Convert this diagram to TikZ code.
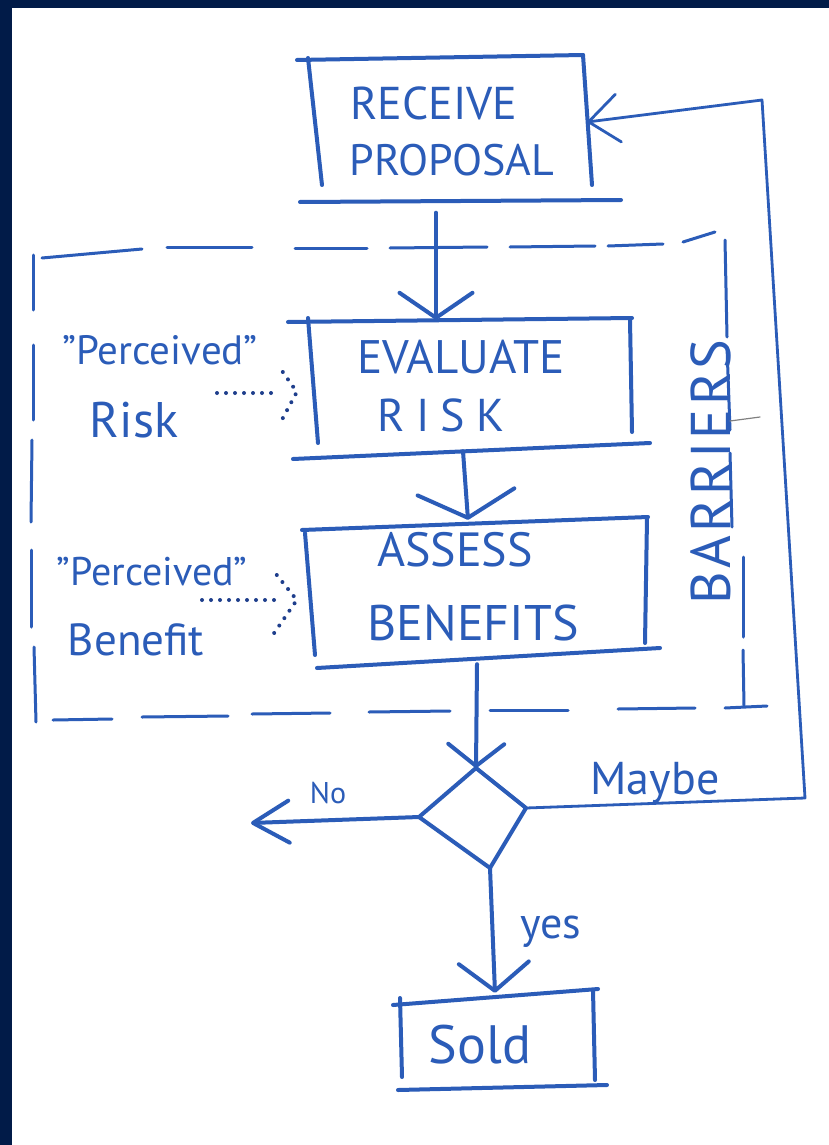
\documentclass[tikz,border=0pt]{standalone}
\usepackage{fontspec}
\setmainfont{PT Sans}
\usetikzlibrary{arrows.meta,calc,shapes.geometric}
\definecolor{ink}{RGB}{43,92,184}
\definecolor{dotink}{RGB}{30,62,140}
\definecolor{navy}{RGB}{1,27,72}

\begin{document}
\begin{tikzpicture}[x=1pt,y=-1pt,
  pen/.style={draw=ink, line width=4pt, line cap=round, line join=round},
  thinpen/.style={draw=ink, line width=2.8pt, line cap=round, line join=round},
  dashpen/.style={draw=ink, line width=3pt, line cap=round},
  dotpen/.style={draw=dotink, line width=4pt, line cap=round, dash pattern=on 0pt off 9pt},
  vtip/.style 2 args={-{Straight Barb[length=#1pt,width=#2pt,round]}},
  box/.style={rectangle, draw=none, inner sep=0pt},
  lbl/.style={text=ink, inner sep=0pt, anchor=center},
  fs/.style={font=\fontsize{#1}{#1}\selectfont}
]
\useasboundingbox (0,0) rectangle (829,1145);
% paper and dark frame
\fill[white] (0,0) rectangle (829,1145);
\fill[navy] (0,0) rectangle (12,1145);
\fill[navy] (0,0) rectangle (829,8);

% ---------- box nodes (used as connector ends) ----------
\node[box, minimum width=290pt, minimum height=145pt] (receive) at (446,130) {};
\node[box, minimum width=330pt, minimum height=131pt] (evaluate) at (466,385.5) {};
\node[box, minimum width=343pt, minimum height=136pt] (assess) at (476,590) {};
\node[box, minimum width=205pt, minimum height=95pt] (sold) at (497,1040.5) {};

% ---------- hand-drawn box outlines ----------
\draw[pen] (297,60) -- (583,55);
\draw[pen] (308,58) -- (322,185);
\draw[pen] (583,55) -- (592,185);
\draw[pen] (300,202) -- (621,200);

\draw[pen] (288,322) -- (632,318);
\draw[pen] (308,318) -- (318,443);
\draw[pen] (630,320) -- (632,432);
\draw[pen] (293,459) -- (650,443);

\draw[pen] (302,530) -- (648,517);
\draw[pen] (305,533) -- (315,655);
\draw[pen] (647,518) -- (645,643);
\draw[pen] (317,668) -- (660,648);

\draw[pen] (393,1005) -- (598,989);
\draw[pen] (400,998) -- (402,1077);
\draw[pen] (593,990) -- (595,1080);
\draw[pen] (398,1090) -- (607,1085);

% ---------- decision diamond ----------
\coordinate (dT) at (476,768);
\coordinate (dR) at (526,808);
\coordinate (dB) at (490,868);
\coordinate (dL) at (419,817);
\draw[pen] (dT) -- (dR) -- (dB) -- (dL) -- cycle;

% ---------- box texts ----------
\node[lbl, fs=46] (recA) at (434,103) {RECEIVE};
\node[lbl, fs=44] (recB) at (452,160) {PROPOSAL};
\node[lbl, fs=47] (evaA) at (461,357) {EVALUATE};
\node[lbl, fs=46] (evaB) at (441,415) {\addfontfeatures{LetterSpace=25}RISK};
\node[lbl, fs=48] (assA) at (455,550) {ASSESS};
\node[lbl, fs=50] (assB) at (473,623) {BENEFITS};
\node[lbl, fs=54] (soldT) at (480,1045) {Sold};

% ---------- side notes ----------
\node[lbl, fs=41] (riskP) at (160,350) {"Perceived"};
\node[lbl, fs=50] (riskR) at (134,420) {Risk};
\node[lbl, fs=40] (benP) at (152,572) {"Perceived"};
\node[lbl, fs=45] (benB) at (136,640) {Benefit};
\node[lbl, fs=56, rotate=90] (barr) at (711,472) {\addfontfeatures{LetterSpace=6}BARRIERS};

% ---------- branch labels ----------
\node[lbl, fs=30] (noT) at (328,793) {No};
\node[lbl, fs=46] (maybeT) at (655,783) {Maybe};
\node[lbl, fs=44] (yesT) at (551,932) {yes};

% ---------- barrier frame (hand-drawn dashes) ----------
\draw[dashpen] (42,258) -- (142,249);
\draw[dashpen] (167,247) -- (252,247);
\draw[dashpen] (295,248) -- (367,248);
\draw[dashpen] (390,248) -- (487,247);
\draw[dashpen] (510,247) -- (595,246);
\draw[dashpen] (608,246) -- (663,244);
\draw[dashpen] (683,242) -- (715,232);

\draw[dashpen] (33,255) -- (33,310);
\draw[dashpen] (33,345) -- (33,420);
\draw[dashpen] (32,440) -- (31,522);
\draw[dashpen] (31,550) -- (31,627);
\draw[dashpen] (34,647) -- (36,722);

\draw[dashpen] (53,720) -- (112,719);
\draw[dashpen] (142,717) -- (228,716);
\draw[dashpen] (252,714) -- (330,713);
\draw[dashpen] (369,712) -- (450,711);
\draw[dashpen] (490,710) -- (568,710);
\draw[dashpen] (618,709) -- (695,708);
\draw[dashpen] (725,708) -- (767,706);

\draw[dashpen] (725,240) -- (727,337);
\draw[dashpen] (727,347) -- (730,430);
\draw[dashpen] (730,453) -- (732,527);
\draw[dashpen] (743,557) -- (743,637);
\draw[dashpen] (743,650) -- (744,706);
\draw[gray, line width=1.2pt, line cap=round] (730,421) -- (760,417);

% ---------- main flow connectors ----------
\draw[pen, vtip={25}{73}] ($(receive.south)+(-10,10)$) -- ($(evaluate.north)+(-30,0)$);
\draw[pen, vtip={26}{97}] ($(evaluate.south)+(-3,0)$) -- ($(assess.north)+(-8,-2)$);
\draw[pen, vtip={22}{56}] ($(assess.south)+(1,6)$) -- (dT);
\draw[pen, vtip={28}{70}] (dB) -- ($(sold.north)+(-2,0)$);

% No branch
\coordinate (noEnd) at (251,823);
\draw[pen, vtip={36}{42}] (dL) -- (noEnd);

% Maybe branch loops back to the proposal
\coordinate (mA) at (805,798);
\coordinate (mB) at (762,100);
\draw[thinpen, vtip={30}{48}] (dR) -- (mA) -- (mB) -- ($(receive.east)+(-4,-8)$);

% ---------- dotted influence arrows ----------
\coordinate (rFrom) at (217,393);
\coordinate (rTip) at ($(evaluate.west)+(-4,6.5)$);
\draw[dotpen] (rFrom) -- ($(rTip)+(-17,1)$);
\draw[dotpen] ($(rTip)+(-14,-20)$) -- (rTip) -- ($(rTip)+(-15,28)$);

\coordinate (bFrom) at (202,600);
\coordinate (bTip) at ($(assess.west)+(-7.5,10)$);
\draw[dotpen] (bFrom) -- ($(bTip)+(-14,0)$);
\draw[dotpen] ($(bTip)+(-20,-25)$) -- (bTip) -- ($(bTip)+(-24,35)$);
\end{tikzpicture}
\end{document}
